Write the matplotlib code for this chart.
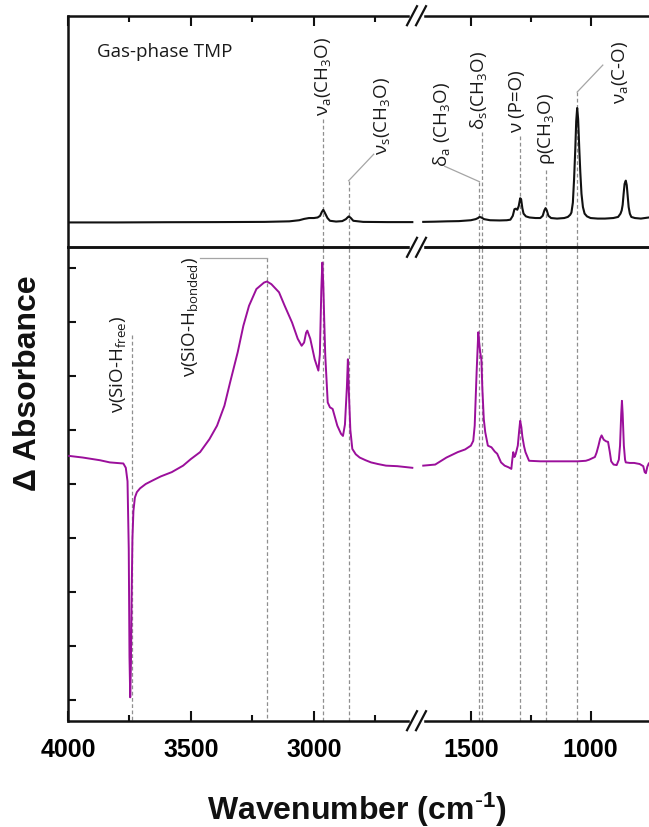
import matplotlib
matplotlib.use("Agg")
import matplotlib.pyplot as plt
from matplotlib.lines import Line2D

plt.rcParams['mathtext.default'] = 'regular'

# ---------------- data ----------------
# Gas-phase TMP spectrum (absorbance, arbitrary units)
gas_wn_hi = [4000, 3800, 3600, 3400, 3200, 3100, 3060, 3040, 3020, 3000, 2985, 2975,
             2968, 2962, 2955, 2945, 2935, 2910, 2885, 2870, 2862, 2858, 2850, 2840,
             2800, 2700, 2600]
gas_abs_hi = [-0.04, -0.04, -0.038, -0.037, -0.035, -0.03, -0.02, -0.008, 0.0, 0.0,
              0.005, 0.02, 0.055, 0.075, 0.045, 0.0, -0.025, -0.032, -0.028, -0.01,
              0.008, 0.015, 0.0, -0.025, -0.035, -0.037, -0.037]
gas_wn_lo = [1699, 1650, 1600, 1550, 1500, 1480, 1470, 1464, 1456, 1445, 1420, 1380,
             1350, 1335, 1325, 1318, 1312, 1306, 1300, 1294, 1290, 1285, 1280, 1270,
             1255, 1230, 1210, 1200, 1193, 1188, 1183, 1176, 1165, 1140, 1110, 1095,
             1085, 1080, 1074, 1069, 1064, 1060, 1056, 1052, 1047, 1043, 1038, 1032,
             1025, 1015, 1000, 970, 940, 905, 885, 875, 870, 866, 862, 858, 853, 849,
             845, 841, 836, 830, 815, 790, 757]
gas_abs_lo = [-0.035, -0.033, -0.03, -0.028, -0.02, -0.01, 0.0, 0.01, 0.005, -0.01,
              -0.02, -0.022, -0.02, -0.015, 0.02, 0.08, 0.085, 0.075, 0.11, 0.18, 0.17,
              0.09, 0.04, 0.015, 0.005, 0.0, 0.0, 0.02, 0.07, 0.09, 0.07, 0.02, 0.0,
              -0.005, 0.0, 0.01, 0.03, 0.05, 0.14, 0.35, 0.62, 0.88, 1.0, 0.9, 0.62,
              0.42, 0.22, 0.1, 0.04, 0.015, 0.0, -0.005, -0.005, 0.0, 0.01, 0.04, 0.07,
              0.12, 0.22, 0.31, 0.34, 0.3, 0.2, 0.1, 0.04, 0.01, 0.0, -0.005, 0.005]

# Difference spectrum (Delta absorbance, arbitrary units)
dif_wn_hi = [3995, 3940, 3870, 3830, 3790, 3775, 3765, 3758, 3753, 3750, 3747, 3744,
             3741, 3738, 3734, 3728, 3720, 3707, 3684, 3654, 3623, 3578, 3532, 3501,
             3463, 3425, 3394, 3364, 3341, 3310, 3287, 3264, 3234, 3203, 3191, 3173,
             3142, 3119, 3089, 3066, 3050, 3040, 3032, 3027, 3015, 2997, 2982, 2976,
             2970, 2966, 2962, 2958, 2954, 2944, 2935, 2924, 2905, 2890, 2882, 2874,
             2866, 2862, 2858, 2852, 2844, 2830, 2814, 2790, 2768, 2740, 2707, 2661,
             2600]
dif_abs_hi = [0.52, 0.49, 0.44, 0.40, 0.385, 0.38, 0.3, 0.05, -1.2, -3.2, -3.95, -3.3,
              -2.0, -1.0, -0.5, -0.25, -0.15, -0.08, 0.0, 0.07, 0.14, 0.22, 0.34, 0.46,
              0.59, 0.83, 1.08, 1.45, 1.88, 2.44, 2.93, 3.30, 3.61, 3.73, 3.75, 3.70,
              3.55, 3.30, 2.99, 2.69, 2.56, 2.62, 2.80, 2.84, 2.69, 2.31, 2.10, 2.4,
              3.6, 4.1, 3.7, 3.0, 2.38, 1.51, 1.42, 1.39, 1.08, 0.93, 0.89, 1.1, 1.8,
              2.31, 1.7, 1.0, 0.65, 0.55, 0.49, 0.44, 0.40, 0.37, 0.34, 0.33, 0.30]
dif_wn_lo = [1699, 1649, 1602, 1555, 1524, 1500, 1490, 1484, 1476, 1469, 1465, 1461,
             1456, 1452, 1446, 1440, 1429, 1414, 1400, 1390, 1374, 1359, 1343, 1331,
             1327, 1323, 1318, 1313, 1304, 1298, 1294, 1289, 1285, 1278, 1272, 1257,
             1210, 1116, 1053, 1020, 1006, 982, 975, 967, 960, 954, 945, 935, 927,
             920, 914, 904, 891, 882, 877, 872, 869, 866, 861, 856, 853, 836, 818,
             795, 780, 774, 769, 763, 757]
dif_abs_lo = [0.34, 0.36, 0.49, 0.59, 0.64, 0.71, 0.8, 1.08, 2.07, 2.81, 2.6, 2.44,
              2.3, 1.76, 1.2, 0.96, 0.71, 0.68, 0.6, 0.56, 0.40, 0.34, 0.31, 0.28,
              0.45, 0.59, 0.5, 0.55, 0.71, 1.0, 1.17, 1.05, 0.88, 0.7, 0.59, 0.43,
              0.42, 0.42, 0.42, 0.43, 0.45, 0.5, 0.58, 0.71, 0.84, 0.9, 0.82, 0.79,
              0.78, 0.6, 0.42, 0.36, 0.35, 0.45, 0.71, 1.3, 1.54, 1.3, 0.71, 0.45, 0.40,
              0.39, 0.39, 0.37, 0.33, 0.22, 0.20, 0.32, 0.38]

x_major_hi = [4000, 3500, 3000]
x_minor_hi = [3750, 3250, 2750]
x_major_lo = [1500, 1000]
x_minor_lo = [1250]
y_ticks = [-4, -3, -2, -1, 0, 1, 2, 3, 4]

# ---------------- layout ----------------
W, H = 649, 828
fig = plt.figure(figsize=(W / 100, H / 100), dpi=100)

def fx(px):
    return px / W

def fy(py):
    return 1 - py / H

xL, xB, xR = 68, 417, 649
yT, yM, yBot = 16.7, 248.3, 721.7

axTL = fig.add_axes([fx(xL), fy(yM), fx(xB) - fx(xL), fy(yT) - fy(yM)])
axTR = fig.add_axes([fx(xB), fy(yM), fx(xR) - fx(xB), fy(yT) - fy(yM)])
axBL = fig.add_axes([fx(xL), fy(yBot), fx(xB) - fx(xL), fy(yM) - fy(yBot)])
axBR = fig.add_axes([fx(xB), fy(yBot), fx(xR) - fx(xB), fy(yM) - fy(yBot)])

XLIM_HI = (4000, 2581)
XLIM_LO = (1725, 756)
YLIM_TOP = (-0.266, 1.839)
YLIM_BOT = (-4.383, 4.383)

black = '#111111'
purple = '#9b0f9b'
dash_col = '#8f8f8f'
lead_col = '#a5a5a5'
SPW = 1.8

for ax, xl, yl in [(axTL, XLIM_HI, YLIM_TOP), (axTR, XLIM_LO, YLIM_TOP),
                   (axBL, XLIM_HI, YLIM_BOT), (axBR, XLIM_LO, YLIM_BOT)]:
    ax.set_xlim(*xl)
    ax.set_ylim(*yl)
    for s in ax.spines.values():
        s.set_linewidth(SPW)
        s.set_color(black)
    ax.spines['right'].set_visible(False)
    ax.set_facecolor('none')

axTR.spines['left'].set_visible(False)
axBR.spines['left'].set_visible(False)

# ticks
for ax, maj, mnr in [(axTL, x_major_hi, x_minor_hi), (axTR, x_major_lo, x_minor_lo),
                     (axBL, x_major_hi, x_minor_hi), (axBR, x_major_lo, x_minor_lo)]:
    ax.set_xticks(maj)
    ax.set_xticks(mnr, minor=True)

for ax in (axTL, axTR):
    ax.tick_params(axis='x', which='both', direction='in', top=True, bottom=False,
                   labeltop=False, labelbottom=False, width=1.5, color=black)
    ax.tick_params(axis='x', which='major', length=7)
    ax.tick_params(axis='x', which='minor', length=4)
    ax.set_yticks([])

for ax in (axBL, axBR):
    ax.tick_params(axis='x', which='both', direction='in', top=False, bottom=True,
                   width=1.5, color=black)
    ax.tick_params(axis='x', which='major', length=7, pad=12)
    ax.tick_params(axis='x', which='minor', length=4)
    for lab in ax.get_xticklabels():
        lab.set_fontfamily('Liberation Sans')
        lab.set_fontweight('bold')
        lab.set_fontsize(18)

axBL.set_yticks(y_ticks)
axBL.tick_params(axis='y', direction='in', left=True, labelleft=False, length=6,
                 width=1.5, color=black)
axBR.set_yticks([])

# ---------------- spectra ----------------
axTL.plot(gas_wn_hi, gas_abs_hi, color=black, lw=1.5, zorder=3)
axTR.plot(gas_wn_lo, gas_abs_lo, color=black, lw=1.5, zorder=3)
axBL.plot(dif_wn_hi, dif_abs_hi, color=purple, lw=1.4, zorder=3)
axBR.plot(dif_wn_lo, dif_abs_lo, color=purple, lw=1.4, zorder=3)

# ---------------- assignment markers ----------------
dkw = dict(color=dash_col, lw=0.9, dashes=(3, 2), zorder=2)

# (wavenumber, start height in top panel)
top_marks_hi = [(2963, 0.90), (2859, 0.339)]
top_marks_lo = [(1464, 0.33), (1455, 0.78), (1294, 0.748), (1188, 0.436), (1056, 1.145)]
for wn, a0 in top_marks_hi:
    axTL.plot([wn, wn], [a0, YLIM_TOP[0]], **dkw)
    axBL.axvline(wn, **dkw)
for wn, a0 in top_marks_lo:
    axTR.plot([wn, wn], [a0, YLIM_TOP[0]], **dkw)
    axBR.axvline(wn, **dkw)

axBL.plot([3741, 3741], [2.75, YLIM_BOT[0]], **dkw)
axBL.plot([3191, 3191], [4.18, YLIM_BOT[0]], **dkw)

lkw = dict(color=lead_col, lw=0.9, zorder=2)
axTL.plot([2859, 2757], [0.339, 0.58], **lkw)
axTR.plot([1464, 1609], [0.33, 0.47], **lkw)
axTR.plot([1056, 949], [1.145, 1.39], **lkw)
axBL.plot([3191, 3463], [4.18, 4.18], **lkw)

tkw = dict(rotation=90, ha='center', va='bottom', fontsize=13.5,
           family=['Open Sans', 'DejaVu Sans'], color='#1a1a1a', zorder=5)
axTL.text(2963, 0.936, 'ν$_a$(CH$_3$O)', **tkw)
axTL.text(2722, 0.58, 'ν$_s$(CH$_3$O)', **tkw)
axTR.text(1624, 0.47, 'δ$_a$ (CH$_3$O)', **tkw)
axTR.text(1467, 0.81, 'δ$_s$(CH$_3$O)', **tkw)
axTR.text(1309, 0.78, 'ν (P=O)', **tkw)
axTR.text(1183, 0.49, 'ρ(CH$_3$O)', **tkw)
axTR.text(878, 1.05, 'ν$_a$(C-O)', **tkw)
axBL.text(3797, 1.33, 'ν(SiO-H$_{free}$)', **tkw)
axBL.text(3504, 2.0, 'ν(SiO-H$_{bonded}$)', **tkw)

axTL.text(3882, 1.475, 'Gas-phase TMP', ha='left', va='baseline', fontsize=13.5,
          family=['Open Sans', 'DejaVu Sans'], color='#1a1a1a')

# ---------------- axis labels ----------------
fig.text(fx(357), fy(810), r'Wavenumber (cm$^{\text{-}1}$)', ha='center', va='center',
         fontsize=23, fontweight='bold', family='Liberation Sans', color=black)
fig.text(fx(28), fy(383), 'Δ Absorbance', ha='center', va='center', rotation=90,
         fontsize=23, fontweight='bold', family='Liberation Sans', color=black)

# ---------------- axis-break marks ----------------
for yy in (yT, yM, yBot):
    fig.add_artist(Line2D([fx(411.5), fx(421.5)], [fy(yy), fy(yy)], color='white',
                          lw=3.2, transform=fig.transFigure, zorder=20))
    for xc in (412, 421):
        fig.add_artist(Line2D([fx(xc - 5), fx(xc + 5)], [fy(yy + 9.5), fy(yy - 9.5)],
                              color=black, lw=1.6, transform=fig.transFigure, zorder=21))

fig.savefig('out.png', dpi=100)
